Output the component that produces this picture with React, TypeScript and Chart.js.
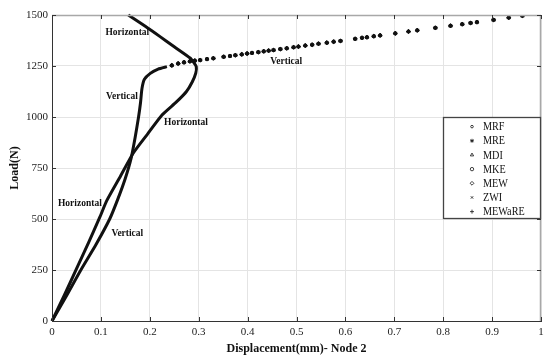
import React, { useEffect, useRef } from 'react';
import { Chart, registerables } from 'chart.js';
import { drawPoint } from 'chart.js/helpers';

Chart.register(...registerables);

const FONT = '"Liberation Serif", "Times New Roman", serif';

const xTickLabels = ['0', '0.1', '0.2', '0.3', '0.4', '0.5', '0.6', '0.7', '0.8', '0.9', '1'];
const yTickLabels = ['0', '250', '500', '750', '1000', '1250', '1500'];

const seriesNames = ['MRF', 'MRE', 'MDI', 'MKE', 'MEW', 'ZWI', 'MEWaRE'];
const seriesMarkers = ['circle', 'star', 'triangle', 'circle', 'rectRot', 'crossRot', 'cross'];
const seriesRadius = [1.3, 2.0, 1.9, 1.7, 1.9, 1.7, 2.0];

// "Horizontal" response curve (dense)
const hDisp = [0, 0.025, 0.05, 0.075, 0.098, 0.112, 0.14, 0.166, 0.195, 0.225, 0.255, 0.275, 0.287, 0.294, 0.295, 0.289, 0.283, 0.25, 0.221, 0.19, 0.156];
const hLoad = [0, 125, 255, 385, 510, 590, 710, 822, 915, 1010, 1075, 1125, 1173, 1215, 1247, 1270, 1288, 1344, 1394, 1446, 1500];

// "Vertical" response curve, dense lower part
const vDisp = [0, 0.03, 0.059, 0.09, 0.118, 0.135, 0.15, 0.162, 0.17, 0.177, 0.181, 0.184, 0.189, 0.201, 0.217, 0.235];
const vLoad = [0, 125, 250, 375, 500, 600, 700, 800, 900, 1000, 1070, 1140, 1185, 1214, 1235, 1247];

// "Vertical" response curve, upper branch (discrete load steps, all methods)
const uDisp = [0.245, 0.258, 0.27, 0.282, 0.292, 0.303, 0.317, 0.33, 0.351, 0.364, 0.375, 0.388, 0.399, 0.409, 0.422, 0.433, 0.443, 0.453, 0.467, 0.48, 0.494, 0.504, 0.518, 0.532, 0.545, 0.562, 0.576, 0.59, 0.62, 0.634, 0.644, 0.658, 0.671, 0.702, 0.729, 0.747, 0.784, 0.815, 0.839, 0.856, 0.869, 0.903, 0.934, 0.962];
const uLoad = [1253, 1262, 1268, 1273, 1276, 1279, 1284, 1288, 1295, 1299, 1303, 1307, 1311, 1314, 1318, 1322, 1325, 1328, 1333, 1337, 1342, 1345, 1350, 1354, 1359, 1364, 1369, 1373, 1383, 1388, 1391, 1396, 1400, 1410, 1419, 1425, 1437, 1447, 1455, 1461, 1465, 1476, 1487, 1496];

const curveLabelText = ['Horizontal', 'Vertical', 'Horizontal', 'Vertical', 'Horizontal', 'Vertical'];
const curveLabelX = [0.154, 0.143, 0.274, 0.479, 0.057, 0.154];
const curveLabelY = [1412, 1098, 971, 1270, 574, 431];

const toXY = (xs: number[], ys: number[]) => xs.map((x, i) => ({ x, y: ys[i] }));

const framePlugin = {
  id: 'frame',
  afterDatasetsDraw(chart: any) {
    const { ctx, chartArea: a, scales } = chart;
    const x = scales.x, y = scales.y;
    ctx.save();
    ctx.strokeStyle = '#a8a8a8';
    ctx.lineWidth = 1.5;
    ctx.beginPath();
    ctx.moveTo(a.left, a.top + 0.5);
    ctx.lineTo(a.right, a.top + 0.5);
    ctx.moveTo(a.right - 0.5, a.top);
    ctx.lineTo(a.right - 0.5, a.bottom);
    ctx.stroke();
    ctx.strokeStyle = '#333';
    ctx.lineWidth = 1;
    ctx.beginPath();
    x.ticks.forEach((t: any) => {
      const px = Math.round(x.getPixelForValue(t.value)) + 0.5;
      ctx.moveTo(px, a.bottom);
      ctx.lineTo(px, a.bottom - 4);
      ctx.moveTo(px, a.top);
      ctx.lineTo(px, a.top + 4);
    });
    y.ticks.forEach((t: any) => {
      const py = Math.round(y.getPixelForValue(t.value)) + 0.5;
      ctx.moveTo(a.left, py);
      ctx.lineTo(a.left + 4, py);
      ctx.moveTo(a.right, py);
      ctx.lineTo(a.right - 4, py);
    });
    ctx.stroke();

    // curve annotations
    ctx.fillStyle = '#111';
    ctx.font = `bold 9.5px ${FONT}`;
    ctx.textAlign = 'center';
    ctx.textBaseline = 'middle';
    curveLabelText.forEach((t, i) => {
      ctx.fillText(t, x.getPixelForValue(curveLabelX[i]), y.getPixelForValue(curveLabelY[i]));
    });
    ctx.restore();
  },
  afterDraw(chart: any) {
    const { ctx, chartArea: a, scales } = chart;
    const x = scales.x, y = scales.y;
    const left = Math.round(x.getPixelForValue(0.8));
    const top = Math.round(y.getPixelForValue(1000));
    const bottom = Math.round(y.getPixelForValue(500));
    const right = Math.round(a.right);
    ctx.save();
    ctx.fillStyle = '#fff';
    ctx.fillRect(left, top, right - left, bottom - top);
    ctx.strokeStyle = '#444';
    ctx.lineWidth = 1.3;
    ctx.strokeRect(left + 0.5, top + 0.5, right - left - 1, bottom - top - 1);
    const rowH = (bottom - top) / 7.2;
    seriesNames.forEach((name, i) => {
      const cy = top + rowH * (i + 0.68);
      ctx.strokeStyle = '#111';
      ctx.fillStyle = i === 1 ? '#111' : 'rgba(0,0,0,0)';
      ctx.lineWidth = 0.8;
      drawPoint(ctx, { pointStyle: seriesMarkers[i], radius: seriesRadius[i], borderWidth: 0.8, rotation: 0 } as any, left + 29, cy);
      ctx.fillStyle = '#111';
      ctx.font = `12px ${FONT}`;
      ctx.textAlign = 'left';
      ctx.textBaseline = 'middle';
      ctx.save();
      ctx.translate(left + 40, cy + 0.5);
      ctx.scale(0.85, 1);
      ctx.fillText(name, 0, 0);
      ctx.restore();
    });
    ctx.restore();
  },
};

export default function App() {
  const ref = useRef<HTMLCanvasElement | null>(null);
  useEffect(() => {
    if (!ref.current) return;
    const lineStyle = {
      showLine: true,
      borderColor: '#111',
      borderWidth: 3,
      pointRadius: 0,
      tension: 0.2,
      fill: false,
      clip: false as any,
    };
    const datasets: any[] = [
      { label: 'Horizontal', data: toXY(hDisp, hLoad), ...lineStyle },
      { label: 'Vertical', data: toXY(vDisp, vLoad), ...lineStyle },
    ];
    seriesNames.forEach((name, i) => {
      datasets.push({
        label: name,
        data: toXY(uDisp, uLoad),
        showLine: false,
        pointStyle: seriesMarkers[i],
        pointRadius: seriesRadius[i],
        pointBorderWidth: 0.8,
        pointBorderColor: '#111',
        pointBackgroundColor: i === 1 ? '#111' : 'rgba(0,0,0,0)',
      });
    });
    const chart = new Chart(ref.current, {
      type: 'scatter',
      data: { datasets },
      options: {
        responsive: false,
        animation: false,
        devicePixelRatio: 1,
        layout: { padding: { top: 15, right: 10, left: 0, bottom: 0 } },
        plugins: { legend: { display: false }, tooltip: { enabled: false } },
        scales: {
          x: {
            type: 'linear',
            min: 0,
            max: 1,
            ticks: {
              stepSize: 0.1,
              autoSkip: false,
              maxRotation: 0,
              padding: 5,
              color: '#222',
              font: { family: FONT, size: 11 },
              callback: (_v: any, i: number) => xTickLabels[i] ?? '',
            },
            grid: { color: '#e4e4e4', drawTicks: false },
            border: { display: true, color: '#333', width: 1 },
            title: {
              display: true,
              text: 'Displacement(mm)- Node 2',
              color: '#111',
              font: { family: FONT, size: 12, weight: 'bold' },
              padding: { top: 0, bottom: 2 },
            },
            afterFit: (s: any) => {
              s.height = 37;
            },
          },
          y: {
            type: 'linear',
            min: 0,
            max: 1500,
            ticks: {
              stepSize: 250,
              autoSkip: false,
              padding: 4,
              color: '#222',
              font: { family: FONT, size: 11 },
              callback: (_v: any, i: number) => yTickLabels[i] ?? '',
            },
            grid: { color: '#e4e4e4', drawTicks: false },
            border: { display: true, color: '#333', width: 1 },
            title: {
              display: true,
              text: 'Load(N)',
              color: '#111',
              font: { family: FONT, size: 12, weight: 'bold' },
              padding: { top: 8, bottom: 0 },
            },
            afterFit: (s: any) => {
              s.width = 52;
            },
          },
        },
      } as any,
      plugins: [framePlugin],
    });
    return () => chart.destroy();
  }, []);
  return (
    <div style={{ position: 'fixed', left: 0, top: 0, width: 551, height: 358, background: '#fff' }}>
      <canvas ref={ref} width={551} height={358} />
    </div>
  );
}
